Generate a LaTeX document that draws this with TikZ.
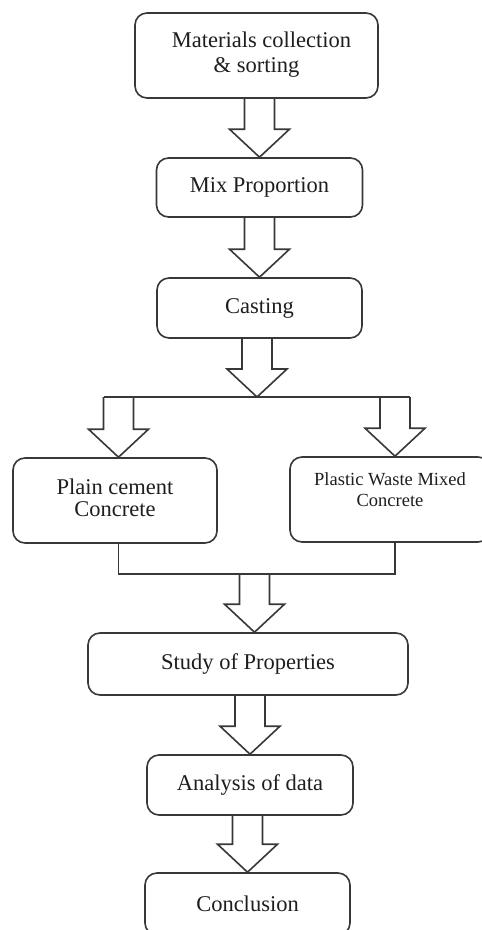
\documentclass[tikz,border=0pt]{standalone}
\usepackage{fontspec}
\setmainfont{Liberation Serif}
\usetikzlibrary{calc}
\definecolor{linec}{HTML}{383838}
\definecolor{textc}{HTML}{1E1E1E}
\newcommand{\blockarr}[2]{%
  \draw[barrow] let \p1=(#2), \p2=(#1) in
    (\x1-15pt,\y2) -- (\x1-15pt,\y1+28pt) -- (\x1-30pt,\y1+28pt) -- (\x1,\y1)
    -- (\x1+30pt,\y1+28pt) -- (\x1+15pt,\y1+28pt) -- (\x1+15pt,\y2);}
\begin{document}
\begin{tikzpicture}[x=1pt,y=1pt,
  box/.style={draw=linec, line width=1.6pt, rounded corners=12pt, align=center,
    inner sep=0pt, text=textc, font=\fontsize{22.5}{24}\selectfont},
  barrow/.style={draw=linec, line width=1.6pt, line join=miter},
  wire/.style={draw=linec, line width=1.6pt}]
\useasboundingbox (0,0) rectangle (482,-930);
\clip (0,0) rectangle (482,-930);
\fill[white] (0,0) rectangle (482,-930);

\node[box, minimum width=243pt, minimum height=85pt] (mat) at (256.5,-55.5)
  {\raisebox{-3pt}{\begin{tabular}{@{}c@{}}\hspace*{10pt}Materials collection\\[1pt]\& sorting\end{tabular}}};
\node[box, minimum width=206pt, minimum height=59pt] (mix) at (259.5,-187.5) {Mix Proportion};
\node[box, minimum width=205pt, minimum height=60pt] (cast) at (259.5,-308) {Casting};
\node[box, minimum width=204pt, minimum height=85pt] (plain) at (115,-500.5)
  {\raisebox{3pt}{\begin{tabular}{@{}c@{}}Plain cement\\[-2pt]Concrete\end{tabular}}};
\node[box, minimum width=200pt, minimum height=85pt] (plastic) at (390,-499.5)
  {\raisebox{4pt}[0pt][0pt]{\fontsize{18.5}{22}\selectfont\begin{tabular}{@{}c@{}}Plastic Waste Mixed\\[-1pt]Concrete\end{tabular}}};
\node[box, minimum width=320pt, minimum height=62pt] (study) at (248,-664) {Study of Properties};
\node[box, minimum width=206pt, minimum height=60pt] (anal) at (250,-785) {Analysis of data};
\node[box, minimum width=205pt, minimum height=62pt] (concl) at (247.5,-904) {Conclusion};

% straight arrows
\blockarr{mat.south}{mix.north}
\blockarr{mix.south}{cast.north}

% split
\coordinate (split) at (257,-397);
\blockarr{cast.south}{split}
\coordinate (tipL) at ($(plain.north)+(3.5,0)$);
\coordinate (tipR) at ($(plastic.north)+(5,0)$);
\path let \p1=(tipL), \p2=(split) in coordinate (splitL) at (\x1-15pt,\y2);
\path let \p1=(tipR), \p2=(split) in coordinate (splitR) at (\x1+15pt,\y2);
\draw[wire] (splitL) -- (splitR);
\blockarr{split}{tipL}
\blockarr{split}{tipR}

% merge
\coordinate (mergeY) at (0,-574);
\coordinate (tipS) at ($(study.north)+(6.5,0)$);
\coordinate (merge) at (tipS |- mergeY);
\draw[wire] (tipL |- plain.south) -- (tipL |- mergeY) -- (tipR |- mergeY) -- (tipR |- plastic.south);
\blockarr{merge}{tipS}

\blockarr{study.south}{anal.north}
\blockarr{anal.south}{concl.north}
\end{tikzpicture}
\end{document}
